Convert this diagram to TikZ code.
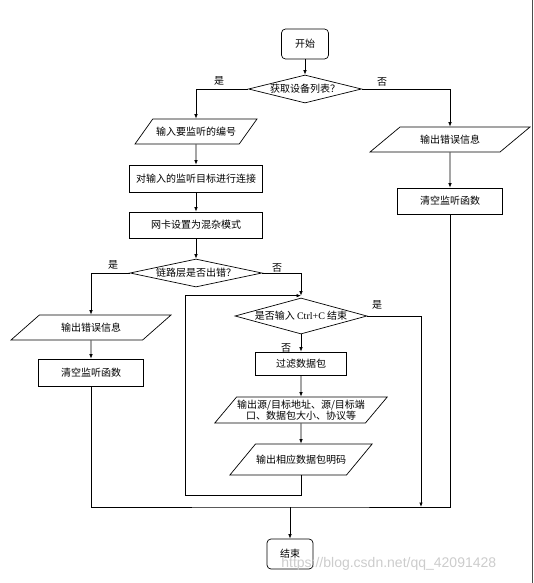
\documentclass[tikz,border=0pt]{standalone}
\usepackage{fontspec}
\setmainfont{Liberation Serif}
\newfontfamily\cjk{Noto Sans CJK SC}
\newfontfamily\marksans{Liberation Sans}
\usepackage{tikz}
\usetikzlibrary{shapes.geometric, arrows.meta, positioning}

\begin{document}
\begin{tikzpicture}[x=1pt, y=-1pt, line width=0.7pt,
    every node/.style={font=\cjk\fontsize{10}{11.5}\selectfont},
    term/.style={draw, rounded corners=4pt, minimum width=47pt, minimum height=30pt},
    proc/.style={draw, minimum height=26pt, inner sep=1pt},
    io/.style={draw, trapezium, trapezium stretches body, inner sep=0.5pt},
    dec/.style={draw, diamond, aspect=3.5, inner sep=-2pt},
    arr/.style={-{Latex[length=4.5pt,width=3.5pt]}}]
        \useasboundingbox (0,0) rectangle (534,583);

        % main line
        \node[term] (start) at (305,44) {开始};
        \node[dec, minimum width=113pt, minimum height=28pt] (getdev) at (305,89) {获取设备列表？};
        \node[io, trapezium left angle=30, trapezium right angle=150, minimum width=122pt, minimum height=25pt] (inpnum) at (196,131.5) {输入要监听的编号};
        \node[proc, minimum width=133pt, minimum height=27pt] (conn) at (196,178.5) {对输入的监听目标进行连接};
        \node[proc, minimum width=133pt] (promisc) at (196,225) {网卡设置为混杂模式};
        \node[dec, minimum width=132pt, minimum height=28pt] (linkerr) at (196,273) {链路层是否出错？};

        % error branches
        \node[io, trapezium left angle=20, trapezium right angle=160, minimum width=160pt, minimum height=25pt] (errL) at (91,327.5) {输出错误信息};
        \node[proc, minimum width=105pt, minimum height=27pt] (clrL) at (91,372.5) {清空监听函数};
        \node[io, trapezium left angle=19, trapezium right angle=161, minimum width=160pt, minimum height=25pt] (errR) at (450,139.5) {输出错误信息};
        \node[proc, minimum width=105pt, minimum height=26pt] (clrR) at (450,201) {清空监听函数};

        % capture loop
        \node[dec, minimum width=132pt, minimum height=36pt] (ctrlc) at (301,316) {是否输入 {\rmfamily Ctrl+C} 结束};
        \node[proc, minimum width=91pt, minimum height=23pt] (filter) at (301,363.5) {过滤数据包};
        \node[io, trapezium left angle=45, trapezium right angle=135, minimum width=164pt, minimum height=26pt, align=center] (info) at (301,410) {输出源/目标地址、源/目标端\\口、数据包大小、协议等};
        \node[io, trapezium left angle=22, trapezium right angle=158, minimum width=141pt, minimum height=31pt] (raw) at (301,459.5) {输出相应数据包明码};

        \node[term, minimum width=46pt] (stop) at (290,554) {结束};

        \coordinate (merge) at ([yshift=2pt]ctrlc.north);
        \coordinate (loopL) at (185,495);
        \coordinate (bus) at (290,507);
        \coordinate (busR) at (421,507);

        \draw[arr] (start) -- (getdev);
        \draw[arr] (getdev.west) -| (inpnum.north);
        \draw[arr] (getdev.east) -| (errR.north);
        \draw[arr] (inpnum) -- (conn);
        \draw[arr] (conn) -- (promisc);
        \draw[arr] (promisc) -- (linkerr);
        \draw[arr] (linkerr.west) -| (errL.north);
        \draw[arr] (errL) -- (clrL);
        \draw[arr] (errR) -- (clrR);
        \draw[arr] (linkerr.east) -| (merge);
        \draw[arr] (ctrlc) -- (filter);
        \draw[arr] (filter) -- (info);
        \draw[arr] (info) -- (raw);
        \draw[arr] (raw.south) |- (loopL) |- (merge);
        \draw[arr] (ctrlc.east) -| (busR);
        \draw (clrL.south) |- (bus) -| (clrR.south);
        \draw[arr] (bus) -- (stop);

        \node (yes1) at (219,81) {是};
        \node (no1) at (382,82) {否};
        \node (yes2) at (113,265) {是};
        \node (no2) at (277,268) {否};
        \node (yes3) at (377,305) {是};
        \node (no3) at (286,348) {否};

        \draw[black!70] (532,0) -- (532,583);
        \node[font=\marksans\fontsize{14}{14}\selectfont, text=black!20, anchor=west, inner sep=0pt] (mark) at (281,564) {https://blog.csdn.net/qq\_42091428};
\end{tikzpicture}
\end{document}
